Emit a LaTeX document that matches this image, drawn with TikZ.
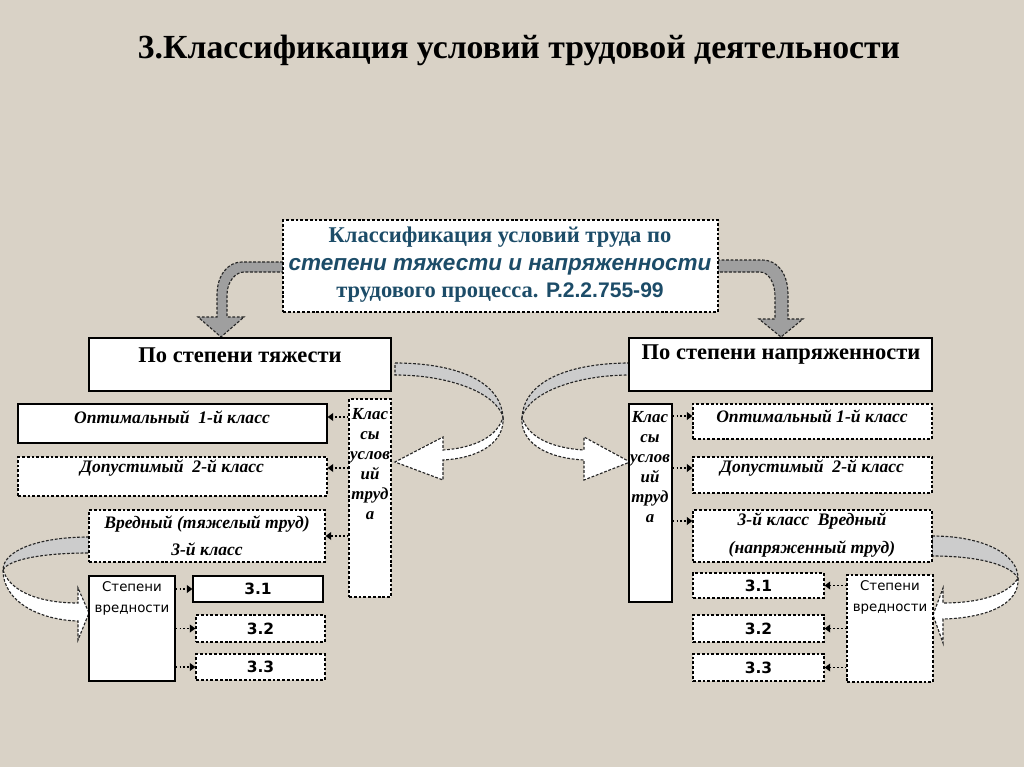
\documentclass[tikz,border=0pt]{standalone}
\usepackage{fontspec}
\setmainfont{Liberation Serif}
\setsansfont{Liberation Sans}
\newfontfamily\dejavu{DejaVu Sans}
\usetikzlibrary{fit,arrows.meta}

\definecolor{bgc}{RGB}{217,210,198}
\definecolor{headblue}{RGB}{28,76,104}

\tikzset{
  solidbox/.style={draw=black, fill=white, line width=0.8pt, inner sep=0pt},
  dashbox/.style={solidbox, dash pattern=on 2pt off 1.4pt},
  conn/.style={line width=1.1pt, dash pattern=on 1.2pt off 1.6pt, -{Triangle[length=4pt,width=5.5pt]}},
  bendarrow/.style={draw=black!85, line width=0.8pt, dash pattern=on 2pt off 1.2pt},
  hdr/.style={font=\fontsize{16}{19}\selectfont\bfseries},
  klass/.style={font=\fontsize{12.5}{19.2}\selectfont\bfseries\itshape, align=center},
  stepen/.style={font=\dejavu\fontsize{9.5}{15}\selectfont, align=center},
  sub/.style={font=\dejavu\bfseries\fontsize{11}{12}\selectfont},
}

\begin{document}
\begin{tikzpicture}[x=0.025cm,y=-0.025cm]
  \useasboundingbox (0,0) rectangle (1024,767);
  \fill[bgc] (0,0) rectangle (1024,767);

  \node[font=\fontsize{24}{28}\selectfont\bfseries] (title) at (519,50) {3.Классификация условий трудовой деятельности};

  % curved arrows
  \draw[bendarrow, fill=gray!75] (283,262) -- (242,262) .. controls (228,262) and (217,275) .. (217,295) -- (217,317) -- (198,317) -- (221,337) -- (244,317) -- (227,317) -- (227,295) .. controls (227,281) and (236,272) .. (244,272) -- (283,272) -- cycle;
  \draw[bendarrow, fill=gray!75] (717,260) -- (762,260) .. controls (778,260) and (788,274) .. (788,295) -- (788,319) -- (803,319) -- (781,337) -- (759,319) -- (775,319) -- (775,296) .. controls (775,282) and (768,272) .. (760,272) -- (717,272) -- cycle;

  \draw[bendarrow, fill=black!20] (395,363) .. controls (450,363) and (500,378) .. (503,417) .. controls (496,393) and (450,375) .. (395,375) -- cycle;
  \draw[bendarrow, fill=white] (503,417) .. controls (505,442) and (480,458) .. (443,460) -- (443,480) -- (395,462) -- (443,437) -- (443,450) .. controls (475,448) and (498,436) .. (503,417) -- cycle;
  \draw[bendarrow, fill=black!20] (630,363) .. controls (575,363) and (525,378) .. (522,417) .. controls (529,393) and (575,375) .. (630,375) -- cycle;
  \draw[bendarrow, fill=white] (522,417) .. controls (520,442) and (545,458) .. (584,460) -- (584,480) -- (630,462) -- (584,437) -- (584,450) .. controls (550,448) and (527,436) .. (522,417) -- cycle;

  \draw[bendarrow, fill=black!20] (89,537) .. controls (40,537) and (3,550) .. (3,570) .. controls (8,560) and (40,553) .. (89,553) -- cycle;
  \draw[bendarrow, fill=white] (3,570) .. controls (3,602) and (40,620) .. (78,621) -- (78,640) -- (89,613) -- (78,588) -- (78,603) .. controls (40,603) and (10,592) .. (3,570) -- cycle;
  \draw[bendarrow, fill=black!20] (932,536) .. controls (985,536) and (1018,555) .. (1018,578) .. controls (1010,565) and (980,556) .. (932,556) -- cycle;
  \draw[bendarrow, fill=white] (1018,578) .. controls (1020,605) and (985,618) .. (943,619) -- (943,643) -- (933,615) -- (943,588) -- (943,603) .. controls (985,603) and (1010,592) .. (1018,578) -- cycle;

  % top box
  \node[dashbox, fit={(283,220) (718,312)}] (main) {};
  \node[text=headblue, align=center, font=\fontsize{16}{19.5}\selectfont\bfseries] (maint) at (500,265)
    {Классификация условий труда по\\
     {\sffamily\itshape степени тяжести и напряженности}\\
     трудового процесса. {\sffamily\fontsize{15}{19.5}\selectfont Р.2.2.755-99}};

  % left half
  \node[solidbox, fit={(89,338) (391,391)}] (tyazh) {};
  \node[hdr] (tyazht) at (240,355) {По степени тяжести};
  \node[dashbox, fit={(349,399) (391,597)}] (kl) {};
  \node[klass, font=\fontsize{12}{14.2}\selectfont\bfseries\itshape] (klt) at (370,464) {Клас\\сы\\услов\\ий\\труд\\а};
  \node[solidbox, fit={(18,404) (327,443)}] (opt1) {};
  \node[klass] (opt1t) at (172,417) {Оптимальный\ \ 1-й класс};
  \node[dashbox, fit={(18,457) (327,496)}] (dop1) {};
  \node[klass] (dop1t) at (172,468) {Допустимый\ \ 2-й класс};
  \node[dashbox, fit={(89,510) (325,562)}] (vr1) {};
  \node[klass] (vr1t) at (207,536) {Вредный (тяжелый труд)\\3-й класс};
  \node[solidbox, fit={(89,576) (175,681)}] (st1) {};
  \node[stepen] (st1t) at (132,598) {Степени\\вредности};
  \node[solidbox, fit={(193,576) (323,602)}] (a1) {};
  \node[dashbox, fit={(196,615) (325,642)}] (b1) {};
  \node[dashbox, fit={(196,654) (325,680)}] (c1) {};
  \node[sub] (a1t) at (a1) {3.1};
  \node[sub] (b1t) at (b1) {3.2};
  \node[sub] (c1t) at (c1) {3.3};

  \draw[conn] (kl.west |- opt1t) -- (opt1.east |- opt1t);
  \draw[conn] (kl.west |- dop1t) -- (dop1.east |- dop1t);
  \draw[conn] (kl.west |- vr1) -- (vr1.east);
  \draw[conn] (st1.east |- a1) -- (a1.west);
  \draw[conn] (st1.east |- b1) -- (b1.west);
  \draw[conn] (st1.east |- c1) -- (c1.west);

  % right half
  \node[solidbox, fit={(629,338) (932,391)}] (napr) {};
  \node[hdr] (naprt) at (781,355) {По степени напряженности};
  \node[solidbox, fit={(629,404) (672,602)}] (kr) {};
  \node[klass, font=\fontsize{12}{14.2}\selectfont\bfseries\itshape] (krt) at (650,467) {Клас\\сы\\услов\\ий\\труд\\а};
  \node[dashbox, fit={(693,404) (932,439)}] (opt2) {};
  \node[klass] (opt2t) at (812,416) {Оптимальный 1-й класс};
  \node[dashbox, fit={(693,457) (932,493)}] (dop2) {};
  \node[klass] (dop2t) at (812,468) {Допустимый\ \ 2-й класс};
  \node[dashbox, fit={(693,510) (932,562)}] (vr2) {};
  \node[klass] (vr2a) at (812,521) {3-й класс\ \ Вредный};
  \node[klass] (vr2b) at (812,549) {(напряженный труд)};
  \node[dashbox, fit={(847,575) (933,682)}] (st2) {};
  \node[stepen] (st2t) at (890,597) {Степени\\вредности};
  \node[dashbox, fit={(693,573) (824,598)}] (a2) {};
  \node[dashbox, fit={(693,615) (824,642)}] (b2) {};
  \node[dashbox, fit={(693,654) (824,681)}] (c2) {};
  \node[sub] (a2t) at (a2) {3.1};
  \node[sub] (b2t) at (b2) {3.2};
  \node[sub] (c2t) at (c2) {3.3};

  \draw[conn] (kr.east |- opt2t) -- (opt2.west |- opt2t);
  \draw[conn] (kr.east |- dop2t) -- (dop2.west |- dop2t);
  \draw[conn] (kr.east |- vr2a) -- (vr2.west |- vr2a);
  \draw[conn] (st2.west |- a2) -- (a2.east);
  \draw[conn] (st2.west |- b2) -- (b2.east);
  \draw[conn] (st2.west |- c2) -- (c2.east);
\end{tikzpicture}
\end{document}
